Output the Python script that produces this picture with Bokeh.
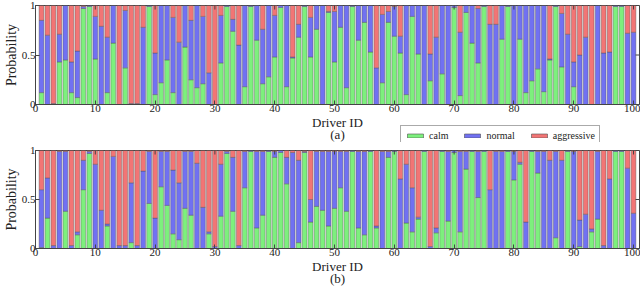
import math
from bokeh.plotting import figure
from bokeh.models import (ColumnDataSource, FixedTicker, Legend,
                          LegendItem, Range1d)
from bokeh.layouts import column
from bokeh.embed import file_html
from bokeh.resources import INLINE

driver_ids = list(range(1, 101))
x_ticks = [0, 10, 20, 30, 40, 50, 60, 70, 80, 90, 100]
y_ticks = [0, 0.5, 1]
y_tick_labels = {0: "0", 0.5: "0.5", 1: "1"}
classes = ["calm", "normal", "aggressive"]
x_min, x_max = 0, 101

# ---- panel (a) ----
calm_a = [.12, .00, .00, .43, .45, .12, .07, .97, .99, .46,
          .00, .12, .62, .00, .37, .00, .00, .00, .99, .10,
          .22, .45, .12, .00, .58, .25, .17, .21, .00, .00,
          .42, .99, .74, .00, .18, .99, .65, .21, .28, .48,
          .98, .18, .47, .68, .99, .48, .76, .00, .93, .43,
          .78, .17, .99, .65, .83, .53, .00, .22, .83, .69,
          .52, .10, .89, .51, .00, .24, .00, .31, .00, .98,
          .09, .93, .62, .42, .99, .00, .00, .66, .99, .00,
          .66, .12, .24, .36, .13, .45, .99, .38, .00, .18,
          .00, .00, .00, .00, .00, .00, .99, .99, .00, .00]
normal_a = [.73, .70, .01, .28, .55, .31, .47, .02, .01, .43,
            .79, .56, .38, .00, .58, .01, .01, .78, .01, .42,
            .78, .55, .76, .63, .42, .60, .83, .68, .32, .00,
            .48, .01, .12, .60, .82, .01, .35, .55, .72, .42,
            .02, .82, .01, .13, .01, .40, .24, 1.0, .01, .51,
            .22, .83, .01, .35, .17, .47, .37, .69, .11, .30,
            .17, .90, .11, .49, 1.0, .27, .68, .69, 1.0, .02,
            .64, .07, .38, .55, .01, .81, .81, .34, .01, 1.0,
            .34, .88, .76, .64, .87, .01, .01, .54, .71, .25,
            .50, .68, .00, 1.0, .52, .53, .01, .01, .72, .73]
aggr_a = [.15, .30, .99, .29, .00, .57, .46, .01, .00, .11,
          .21, .32, .00, 1.0, .05, .99, .99, .22, .00, .48,
          .00, .00, .12, .37, .00, .15, .00, .11, .68, 1.0,
          .10, .00, .14, .40, .00, .00, .00, .24, .00, .10,
          .00, .00, .52, .19, .00, .12, .00, .00, .06, .06,
          .00, .00, .00, .00, .00, .00, .63, .09, .06, .01,
          .31, .00, .00, .00, .00, .49, .32, .00, .00, .00,
          .27, .00, .00, .03, .00, .19, .19, .00, .00, .00,
          .00, .00, .00, .00, .00, .54, .00, .08, .29, .57,
          .50, .32, 1.0, .00, .48, .47, .00, .00, .28, .27]

# ---- panel (b) ----
calm_b = [.01, .31, .00, .00, .38, .00, .14, .60, .97, .00,
          .00, .23, .00, .00, .00, .06, .00, .00, .46, .00,
          .63, .44, .15, .09, .41, .34, .00, .00, .15, .00,
          .33, .97, .38, .00, .62, .99, .21, .34, .99, .93,
          .98, .66, .00, .06, .98, .27, .43, .39, .23, .41,
          .62, .38, .99, .21, .14, .99, .21, .00, .93, .99,
          .00, .26, .17, .30, .99, .00, .16, .99, .28, .98,
          .17, .81, .99, .52, .99, .00, .00, .00, .99, .70,
          .86, .00, .99, .77, .00, .00, .11, .00, .99, .00,
          .02, .00, .17, .30, .00, .00, .99, .99, .00, .00]
normal_b = [.59, .41, .03, .99, .61, .03, .03, .30, .02, .86,
            .39, .02, .94, .03, .03, .61, .03, .79, .53, .31,
            .36, .55, .65, .58, .58, .65, .87, .42, .02, .02,
            .53, .02, .55, .03, .37, .01, .78, .65, .01, .06,
            .02, .27, .98, .84, .01, .23, .56, .60, .76, .58,
            .37, .61, .01, .78, .85, .01, .02, .99, .06, .01,
            .71, .60, .45, .02, .01, .02, .05, .01, .71, .02,
            .82, .18, .01, .47, .01, .60, .99, .99, .01, .29,
            .02, .27, .01, .22, .99, .90, .88, .90, .01, .99,
            .27, .35, .03, .69, .03, .71, .01, .01, .82, .36]
aggr_b = [.40, .28, .97, .01, .01, .97, .83, .10, .01, .14,
          .61, .75, .06, .97, .97, .33, .97, .21, .01, .69,
          .01, .01, .20, .33, .01, .01, .13, .58, .83, .98,
          .14, .01, .07, .97, .01, .00, .01, .01, .00, .01,
          .00, .07, .02, .10, .01, .50, .01, .01, .01, .01,
          .01, .01, .00, .01, .01, .00, .77, .01, .01, .00,
          .29, .14, .38, .68, .00, .98, .79, .00, .01, .00,
          .01, .01, .00, .01, .00, .40, .01, .01, .00, .01,
          .12, .73, .00, .01, .01, .10, .01, .10, .00, .01,
          .71, .65, .80, .01, .97, .29, .00, .00, .18, .64]

GREEN = "#7df07d"
BLUE = "#7171f2"
RED = "#f27575"
COLORS = [GREEN, BLUE, RED]
FONT = "Liberation Serif"
AXC = "#444444"
TXT = "#222222"
EDGE = "#505050"

src_a = ColumnDataSource(dict(x=driver_ids, calm=calm_a, normal=normal_a,
                              aggressive=aggr_a))
src_b = ColumnDataSource(dict(x=driver_ids, calm=calm_b, normal=normal_b,
                              aggressive=aggr_b))


def style_axis(ax, label_size):
    ax.axis_line_color = AXC
    ax.major_tick_line_color = AXC
    ax.major_tick_in = 4
    ax.major_tick_out = 0
    ax.minor_tick_line_color = None
    ax.major_label_text_font = FONT
    ax.major_label_text_font_size = "11px"
    ax.major_label_text_color = TXT
    ax.major_label_standoff = 0
    ax.axis_label_text_font = FONT
    ax.axis_label_text_font_size = label_size
    ax.axis_label_text_font_style = "normal"
    ax.axis_label_text_color = TXT
    ax.axis_label_text_line_height = 0.85
    ax.axis_label_standoff = 0


def make_panel(src, caption, height, top_border):
    p = figure(width=640, height=height, x_range=Range1d(x_min, x_max),
               y_range=Range1d(y_ticks[0], y_ticks[-1]),
               output_backend="svg", toolbar_location=None,
               min_border_left=2, min_border_right=1,
               min_border_top=top_border, min_border_bottom=0)
    p.vbar_stack(classes, x="x", width=0.8, source=src,
                 fill_color=COLORS, line_color=EDGE, line_width=0.4)
    p.xgrid.visible = False
    p.ygrid.visible = False
    p.outline_line_color = AXC
    p.outline_line_alpha = 1.0
    p.xaxis.ticker = FixedTicker(ticks=x_ticks)
    p.yaxis.ticker = FixedTicker(ticks=y_ticks)
    p.yaxis.major_label_overrides = y_tick_labels
    p.xaxis.axis_label = "Driver ID\n" + caption
    p.yaxis.axis_label = "Probability"
    style_axis(p.xaxis[0], "13px")
    style_axis(p.yaxis[0], "14px")
    # mirrored inward ticks on the top and right edges of the box
    p.scatter(x=x_ticks, y=[y_ticks[-1]] * len(x_ticks), marker="dash",
              angle=math.pi / 2, size=8, line_color=AXC, line_width=1)
    p.scatter(x=[x_max] * len(y_ticks), y=y_ticks, marker="dash",
              size=8, line_color=AXC, line_width=1)
    return p


def make_legend_fig(src):
    lf = figure(width=275, height=17, output_backend="svg",
                toolbar_location=None, min_border=0,
                x_axis_type=None, y_axis_type=None,
                x_range=Range1d(x_min, x_max), y_range=Range1d(5, 6))
    lf.grid.visible = False
    lf.outline_line_color = None
    lf.background_fill_color = None
    lf.border_fill_color = None
    rs = lf.vbar_stack(classes, x="x", width=0.8, source=src,
                       fill_color=COLORS, line_color=EDGE, line_width=0.6)
    items = [LegendItem(label=c, renderers=[r]) for c, r in zip(classes, rs)]
    leg = Legend(items=items, orientation="horizontal", location="top_left",
                 label_text_font=FONT, label_text_font_size="10px",
                 label_text_color=TXT, label_width=10,
                 glyph_width=20, glyph_height=5, spacing=14,
                 padding=4, margin=0, label_standoff=4, label_height=9,
                 border_line_color="#555555", border_line_width=1,
                 background_fill_color="white", background_fill_alpha=1.0)
    lf.add_layout(leg, "center")
    lf.margin = (-20, 0, 3, 365)
    return lf


pa = make_panel(src_a, "(a)", 145, 5)
lg = make_legend_fig(src_a)
pb = make_panel(src_b, "(b)", 144, 5)
layout = column(pa, lg, pb, spacing=0)

open("out.html", "w").write(file_html(layout, INLINE))
